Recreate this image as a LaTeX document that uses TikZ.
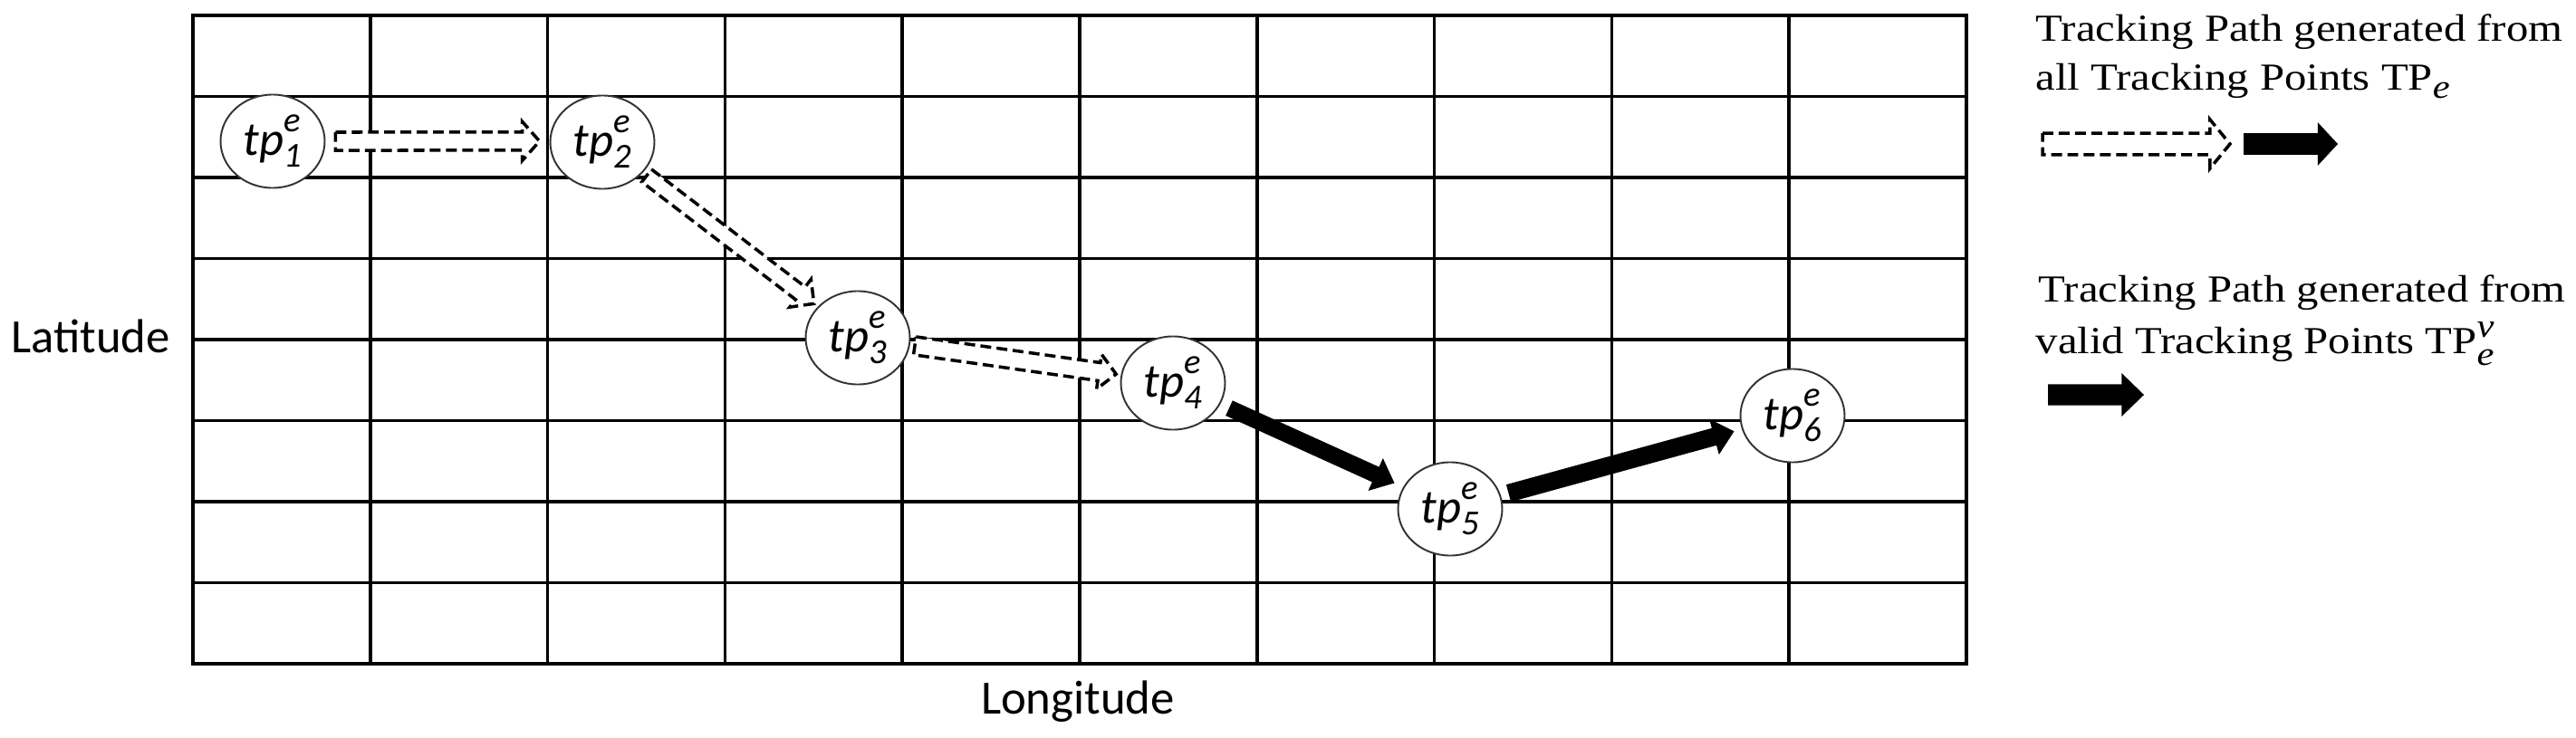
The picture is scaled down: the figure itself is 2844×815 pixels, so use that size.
\documentclass[tikz,border=0pt]{standalone}
\usepackage{fontspec}
\usepackage{graphicx}
\setmainfont{Liberation Serif}
\newfontfamily\carl{Carlito}
\usetikzlibrary{calc,shapes.geometric}

\newcommand\scrfont{\fontsize{11pt}{11pt}\selectfont}
\newcommand\legscr{\fontsize{10.5pt}{10.5pt}\selectfont}
\newcommand\tplab[1]{\textit{tp}\rlap{\raisebox{0.48em}{\scrfont\textit{e}}}\raisebox{-0.26em}{\scrfont\textit{#1}}}

% arrow between two nodes: #1 style, #2 from, #3 to, #4 gap, #5 shaft half, #6 head half, #7 head length
\newcommand\nodearrow[7]{%
  \path[#1] let \p1=(#2), \p2=(#3),
    \n1={atan2(\y2-\y1,\x2-\x1)}, \n2={\n1+90}, \n3={\n1+180}, \n4={\n1-90},
    \p3=(#2.\n1), \p4=(#3.\n3),
    \p5=($(\p3)+(\n1:#4)$), \p6=($(\p4)+(\n3:#4)$), \p7=($(\p6)+(\n3:#7)$)
  in ($(\p5)+(\n2:#5)$) -- ($(\p7)+(\n2:#5)$) -- ($(\p7)+(\n2:#6)$) -- (\p6)
     -- ($(\p7)+(\n4:#6)$) -- ($(\p7)+(\n4:#5)$) -- ($(\p5)+(\n4:#5)$) -- cycle;}

% arrow between two coordinates: #1 style, #2 from, #3 to, #4 shaft half, #5 head half, #6 head length
\newcommand\freearrow[6]{%
  \path[#1] let \p1=(#2), \p2=(#3),
    \n1={atan2(\y2-\y1,\x2-\x1)}, \n2={\n1+90}, \n3={\n1+180}, \n4={\n1-90},
    \p7=($(\p2)+(\n3:#6)$)
  in ($(\p1)+(\n2:#4)$) -- ($(\p7)+(\n2:#4)$) -- ($(\p7)+(\n2:#5)$) -- (\p2)
     -- ($(\p7)+(\n4:#5)$) -- ($(\p7)+(\n4:#4)$) -- ($(\p1)+(\n4:#4)$) -- cycle;}

\tikzset{
  gridline/.style={line width=1.05pt, draw=black},
  tpnode/.style={ellipse, draw=black!80, line width=0.55pt, fill=white,
    minimum width=32.7pt, minimum height=29.3pt, inner sep=0pt,
    font=\carl\fontsize{15pt}{17pt}\selectfont},
  hollowarrow/.style={draw=black, fill=white, line width=1pt,
    dash pattern=on 3.4pt off 1.7pt, line join=miter},
  solidarrow/.style={fill=black},
  axislabel/.style={inner sep=0pt, font=\carl\fontsize{15pt}{18pt}\selectfont},
  legtext/.style={inner sep=0pt, anchor=base west, font=\fontsize{12pt}{14pt}\selectfont},
}

\begin{document}
\begin{tikzpicture}[x=0.01cm, y=-0.01cm]
\useasboundingbox (0,0) rectangle (2844,815);

% grid
\foreach \i in {1,...,9}
  \draw[gridline] ({213+195.8*\i},17) -- ({213+195.8*\i},733);
\foreach \j in {1,...,7}
  \draw[gridline] (213,{17+89.5*\j}) -- (2171,{17+89.5*\j});
\draw[gridline] (213,17) rectangle (2171,733);

% axis labels
\node[axislabel, anchor=base] (lat) at (100,389) {Latitude};
\node[axislabel, anchor=base] (lon) at (1190,788) {Longitude};

% tracking points
\node[tpnode] (tp1) at (301,156) {\tplab{1}};
\node[tpnode] (tp2) at (665,157) {\tplab{2}};
\node[tpnode] (tp3) at (947,373) {\tplab{3}};
\node[tpnode] (tp4) at (1295,423) {\tplab{4}};
\node[tpnode] (tp5) at (1601,562) {\tplab{5}};
\node[tpnode] (tp6) at (1979,459) {\tplab{6}};

% paths
\nodearrow{hollowarrow}{tp1}{tp2}{3.1pt}{2.85pt}{6.1pt}{5.4pt}
\nodearrow{hollowarrow}{tp2}{tp3}{1.5pt}{2.5pt}{5.5pt}{5.4pt}
\nodearrow{hollowarrow}{tp3}{tp4}{1.5pt}{2.85pt}{5.5pt}{5.4pt}
\nodearrow{solidarrow}{tp4}{tp5}{3pt}{2.6pt}{5.6pt}{6.5pt}
\nodearrow{solidarrow}{tp5}{tp6}{2.5pt}{2.8pt}{5.8pt}{6.5pt}

% legend
\node[legtext] (l1) at (2247,45) {\scalebox{1.155}[1]{Tracking Path generated from}};
\node[legtext] (l2) at (2247,100) {\scalebox{1.155}[1]{all Tracking Points TP\raisebox{-2.3pt}{\legscr\textit{e}}}};
\node[legtext] (l3) at (2250,333) {\scalebox{1.155}[1]{Tracking Path generated from}};
\node[legtext] (l4) at (2247,390) {\scalebox{1.155}[1]{valid Tracking Points TP\rlap{\smash{\raisebox{5.1pt}{\legscr\textit{v}}}}\raisebox{-3.7pt}{\legscr\textit{e}}}};

\coordinate (lh1) at (2255,159);
\coordinate (lh2) at (2462,159);
\coordinate (ls1) at (2477,159);
\coordinate (ls2) at (2581,159);
\coordinate (ls3) at (2261,436);
\coordinate (ls4) at (2367,436);
\freearrow{hollowarrow}{lh1}{lh2}{3.4pt}{7.7pt}{6.3pt}
\freearrow{solidarrow}{ls1}{ls2}{3.4pt}{6.8pt}{6.3pt}
\freearrow{solidarrow}{ls3}{ls4}{3.3pt}{6.8pt}{7pt}
\end{tikzpicture}
\end{document}
